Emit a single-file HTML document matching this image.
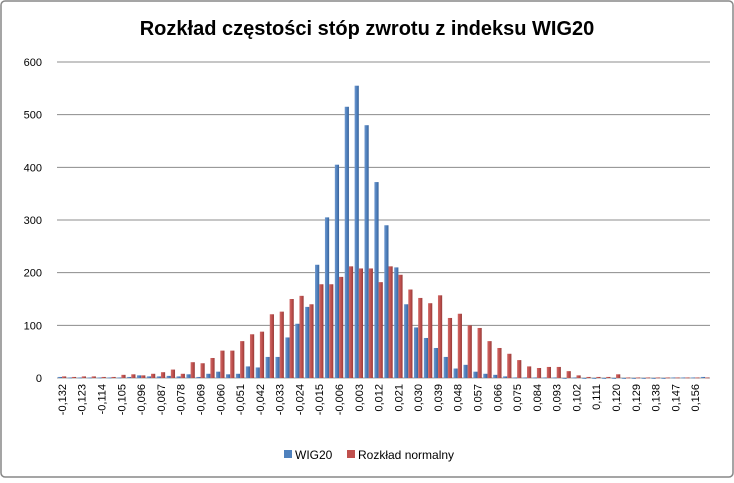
<!DOCTYPE html>
<html><head><meta charset="utf-8"><style>
body{margin:0;background:#fff;}
svg text{font-family:"Liberation Sans",sans-serif;}
</style></head><body>
<svg id="chart" width="734" height="478" xmlns="http://www.w3.org/2000/svg">
<defs>
<linearGradient id="gb" x1="0" x2="1"><stop offset="0" stop-color="#6f98cf"/><stop offset="0.5" stop-color="#4f81bd"/><stop offset="1" stop-color="#3a639a"/></linearGradient>
<linearGradient id="gr" x1="0" x2="1"><stop offset="0" stop-color="#d06a68"/><stop offset="0.5" stop-color="#c0504d"/><stop offset="1" stop-color="#963c3a"/></linearGradient>
</defs>
<rect x="1" y="1" width="732" height="476" rx="4" fill="#fff" stroke="#878787" stroke-width="1.5"/>
<text x="367" y="35" text-anchor="middle" font-size="20" font-weight="bold" fill="#000">Rozkład częstości stóp zwrotu z indeksu WIG20</text>
<g id="grid"></g><g id="bars"></g><g id="xlabels"></g>
<g>
<rect x="284" y="450" width="8" height="8" fill="#4f81bd"/>
<text x="295" y="459" font-size="12" fill="#000">WIG20</text>
<rect x="347" y="450" width="8" height="8" fill="#c0504d"/>
<text x="358" y="459" font-size="12" fill="#000">Rozkład normalny</text>
</g>
</svg>
<script>
const categories=[];for(let i=0;i<66;i++)categories.push((-0.132+0.0045*i));
const wig20=[2,1,1,1,1,1,1,2,5,3,3,4,3,7,2,8,12,7,8,22,20,40,40,77,103,135,215,305,405,515,555,480,372,290,210,140,96,76,57,40,18,25,12,8,6,3,1,1,1,1,1,0,1,0,0,0,0,0,0,0,0,0,1,1,1,2];
const normal=[3,2,3,3,2,2,6,7,5,8,11,16,8,30,28,38,52,52,70,83,88,121,126,150,156,140,178,178,192,212,208,208,182,212,196,168,152,142,157,114,122,100,95,70,57,46,34,22,19,21,21,13,5,2,2,2,7,1,1,1,1,1,1,1,1,1];
const yTicks=[0,100,200,300,400,500,600];
const NS="http://www.w3.org/2000/svg";
const X0=57,X1=710,Y0=378,Y1=62,YMAX=600;
const cw=(X1-X0)/categories.length;
const y=v=>Y0-(v/YMAX)*(Y0-Y1);
const xc=i=>X0+cw*i;
function mk(tag,attrs,parent){const e=document.createElementNS(NS,tag);for(const k in attrs)e.setAttribute(k,attrs[k]);parent.appendChild(e);return e;}
const grid=document.getElementById('grid');
yTicks.forEach(t=>{
 const l=mk('line',{x1:X0,x2:X1,y1:y(t),y2:y(t),stroke:t===0?'#a0a0a0':'#8c8c8c','stroke-width':1},grid);
 
 
 const tx=mk('text',{x:42,y:y(t)+4,'text-anchor':'end','font-size':11,fill:'#000'},grid);
 tx.textContent=t;
 
 
});
const bars=document.getElementById('bars');
categories.forEach((c,i)=>{
 const bw=4.2;
 const vb=wig20[i],vr=normal[i];
 const b=mk('rect',{x:xc(i)+0.8,y:y(vb),width:bw,height:Math.max(Y0-y(vb),0.8),fill:'url(#gb)'},bars);
 
 
 const r=mk('rect',{x:xc(i)+0.8+bw,y:y(vr),width:bw,height:Math.max(Y0-y(vr),0.8),fill:'url(#gr)'},bars);
 
 
});
const xl=document.getElementById('xlabels');
categories.forEach((c,i)=>{
 if(i%2)return;
 const cx=xc(i)+cw/2+4, ty=384;
 const t=mk('text',{x:cx,y:ty,'text-anchor':'end','font-size':11,fill:'#000',transform:`rotate(-90 ${cx} ${ty})`},xl);
 t.textContent=c.toFixed(3).replace('.',',').replace('-0,000','0,000');
 
 
});
</script>
</body></html>
